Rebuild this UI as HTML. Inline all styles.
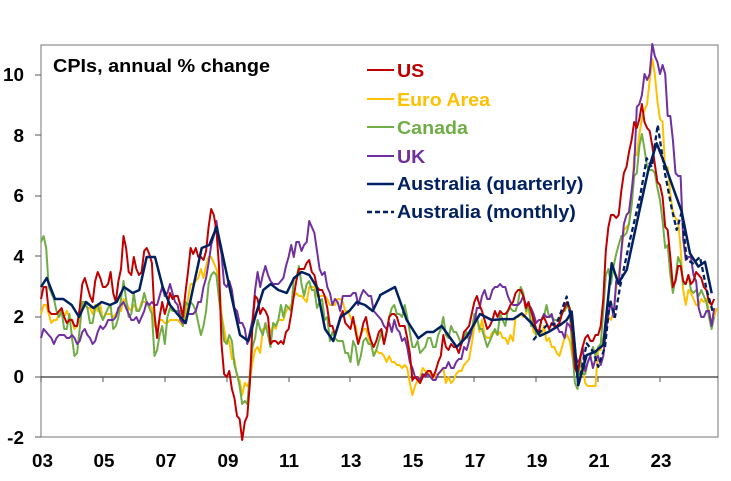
<!DOCTYPE html>
<html><head><meta charset="utf-8"><style>
html,body{margin:0;padding:0;background:#fff}
svg text{font-family:"Liberation Sans",Arial,sans-serif;font-weight:bold}
</style></head><body>
<svg id="s" width="731" height="476" viewBox="0 0 731 476" xmlns="http://www.w3.org/2000/svg">
<rect x="41" y="45" width="677" height="392" fill="none" stroke="#8c8c8c" stroke-width="1.2"/>
<line x1="41" y1="377" x2="718" y2="377" stroke="#000" stroke-width="1"/>
<g stroke="#555" stroke-width="1">
<line x1="41" y1="377" x2="41" y2="382"/><line x1="103" y1="377" x2="103" y2="382"/><line x1="165" y1="377" x2="165" y2="382"/><line x1="227" y1="377" x2="227" y2="382"/><line x1="289" y1="377" x2="289" y2="382"/><line x1="350" y1="377" x2="350" y2="382"/><line x1="412" y1="377" x2="412" y2="382"/><line x1="474" y1="377" x2="474" y2="382"/><line x1="536" y1="377" x2="536" y2="382"/><line x1="598" y1="377" x2="598" y2="382"/><line x1="660" y1="377" x2="660" y2="382"/>
<line x1="35" y1="75" x2="41" y2="75"/><line x1="35" y1="135" x2="41" y2="135"/><line x1="35" y1="196" x2="41" y2="196"/><line x1="35" y1="256" x2="41" y2="256"/><line x1="35" y1="317" x2="41" y2="317"/><line x1="35" y1="377" x2="41" y2="377"/><line x1="35" y1="437" x2="41" y2="437"/>
</g>
<g font-size="18" text-anchor="end" class="t">
<text x="24" y="81">10</text><text x="24" y="142">8</text><text x="24" y="202">6</text><text x="24" y="263">4</text><text x="24" y="323">2</text><text x="24" y="383">0</text><text x="24" y="444">-2</text>
</g>
<g font-size="18" text-anchor="middle" class="t">
<text x="42.5" y="467">03</text><text x="104" y="467">05</text><text x="166" y="467">07</text><text x="228" y="467">09</text><text x="289" y="467">11</text><text x="351" y="467">13</text><text x="413" y="467">15</text><text x="475" y="467">17</text><text x="537" y="467">19</text><text x="599" y="467">21</text><text x="661" y="467">23</text>
</g>
<text x="53" y="72" font-size="18" textLength="217" lengthAdjust="spacingAndGlyphs">CPIs, annual % change</text>
<g id="series" fill="none" stroke-width="2" stroke-linejoin="round"></g>
<g stroke-width="2">
<line x1="367" y1="70" x2="394" y2="70" stroke="#C00000"/>
<line x1="367" y1="99" x2="394" y2="99" stroke="#FFC000"/>
<line x1="367" y1="127" x2="394" y2="127" stroke="#70AD47"/>
<line x1="367" y1="156" x2="394" y2="156" stroke="#7030A0"/>
<line x1="367" y1="184" x2="394" y2="184" stroke="#002060" stroke-width="2.5"/>
<line x1="367" y1="212" x2="394" y2="212" stroke="#002060" stroke-width="2.5" stroke-dasharray="5,3"/>
</g>
<g font-size="18" class="lg">
<text x="397" y="77" fill="#C00000">US</text>
<text x="397" y="106" fill="#FFC000">Euro Area</text>
<text x="397" y="134" fill="#70AD47">Canada</text>
<text x="397" y="163" fill="#7030A0">UK</text>
<text x="397" y="190" fill="#002060">Australia (quarterly)</text>
<text x="397" y="218" fill="#002060">Australia (monthly)</text>
</g>
</svg>
<script>
function X(y){return 41+(y-2003)*30.95}
function Y(v){return 377-30*v}
var US=[2.6,3.0,3.0,2.2,2.1,2.1,2.1,2.2,2.3,2.0,1.8,1.9,1.9,1.7,1.7,2.3,3.1,3.3,3.0,2.7,2.5,3.2,3.5,3.3,3.0,3.0,3.1,3.5,2.8,2.5,3.2,3.6,4.7,4.3,3.5,3.4,4.0,3.6,3.4,3.5,4.2,4.3,4.1,3.8,2.1,1.3,2.0,2.5,2.1,2.4,2.8,2.6,2.7,2.7,2.4,2.0,2.8,3.5,4.3,4.1,4.3,4.0,4.0,3.9,4.2,5.0,5.6,5.4,4.9,3.7,1.1,0.1,0.0,0.2,-0.4,-0.7,-1.3,-1.4,-2.1,-1.5,-1.3,-0.2,1.8,2.7,2.6,2.1,2.3,2.2,2.0,1.1,1.2,1.2,1.1,1.2,1.1,1.5,1.6,2.1,2.7,3.2,3.6,3.6,3.6,3.8,3.9,3.5,3.4,3.0,2.9,2.9,2.7,2.3,1.7,1.7,1.4,1.7,2.0,2.2,1.8,1.7,1.6,2.0,1.5,1.1,1.4,1.8,2.0,1.5,1.2,1.0,1.2,1.5,1.6,1.1,1.5,2.0,2.1,2.1,2.0,1.7,1.7,1.7,1.3,0.8,-0.1,0.0,-0.1,-0.2,0.0,0.1,0.2,0.2,0.0,0.2,0.5,0.7,1.4,1.0,0.9,1.1,1.0,1.0,0.8,1.1,1.5,1.6,1.7,2.1,2.5,2.7,2.4,2.2,1.9,1.6,1.7,1.9,2.2,2.0,2.2,2.1,2.1,2.2,2.4,2.5,2.8,2.9,2.9,2.7,2.3,2.5,2.2,1.9,1.6,1.5,1.9,2.0,1.8,1.6,1.8,1.7,1.7,1.8,2.1,2.3,2.5,2.3,1.5,0.3,0.1,0.6,1.0,1.3,1.4,1.2,1.2,1.4,1.4,1.7,2.6,4.2,5.0,5.4,5.4,5.3,5.4,6.2,6.8,7.0,7.5,7.9,8.5,8.3,8.6,9.1,8.5,8.3,8.2,7.7,7.1,6.5,6.4,6.0,5.0,4.9,4.0,3.0,3.2,3.7,3.7,3.2,3.1,3.4,3.1,3.2,3.5,3.4,3.3,3.0,2.9,2.5,2.4,2.6];
var EU=[2.1,2.4,2.4,2.1,1.8,1.9,1.9,2.1,2.2,2.0,2.2,2.0,1.9,1.6,1.7,2.0,2.5,2.4,2.3,2.3,2.1,2.4,2.2,2.4,1.9,2.1,2.1,2.1,2.0,2.1,2.2,2.2,2.6,2.5,2.3,2.2,2.4,2.3,2.2,2.5,2.5,2.5,2.4,2.3,1.7,1.6,1.9,1.9,1.8,1.8,1.9,1.9,1.9,1.9,1.8,1.7,2.1,2.6,3.1,3.1,3.2,3.3,3.6,3.3,3.7,4.0,4.0,3.8,3.6,3.2,2.1,1.6,1.1,1.2,0.6,0.6,0.0,-0.1,-0.6,-0.2,-0.3,-0.1,0.5,0.9,1.0,0.8,1.6,1.6,1.7,1.5,1.7,1.6,1.9,1.9,1.9,2.2,2.3,2.4,2.7,2.8,2.7,2.7,2.6,2.5,3.0,3.0,3.0,2.7,2.7,2.7,2.7,2.6,2.4,2.4,2.4,2.6,2.6,2.5,2.2,2.2,2.0,1.8,1.7,1.2,1.4,1.6,1.6,1.3,1.1,0.7,0.9,0.8,0.8,0.7,0.5,0.7,0.5,0.5,0.4,0.4,0.3,0.4,0.3,-0.2,-0.6,-0.3,-0.1,0.0,0.3,0.2,0.2,0.1,-0.1,0.1,0.1,0.2,0.3,-0.2,0.0,-0.2,-0.1,0.1,0.2,0.2,0.4,0.5,0.6,1.1,1.7,2.0,1.5,1.9,1.4,1.3,1.3,1.5,1.5,1.4,1.5,1.3,1.3,1.1,1.4,1.2,2.0,2.0,2.1,2.0,2.1,2.3,1.9,1.5,1.4,1.5,1.4,1.7,1.2,1.3,1.0,1.0,0.8,0.7,1.0,1.3,1.4,1.2,0.7,0.3,0.1,0.3,0.4,-0.2,-0.3,-0.3,-0.3,-0.3,0.9,0.9,1.3,1.6,2.0,1.9,2.2,3.0,3.4,4.1,4.9,5.0,5.1,5.9,7.4,7.4,8.1,8.6,8.9,9.1,9.9,10.6,10.1,9.2,8.6,8.5,6.9,7.0,6.1,5.5,5.3,5.2,4.3,2.9,2.4,2.9,2.8,2.6,2.4,2.4,2.6,2.5,2.6,2.2,1.7,2.0,2.3];
var CA=[4.5,4.7,4.3,3.0,2.8,2.6,2.2,2.0,2.2,1.6,1.6,2.1,1.3,0.7,0.8,1.6,2.5,2.5,2.3,1.8,1.8,2.3,2.4,2.1,1.9,2.1,2.3,2.4,1.6,1.7,2.0,2.6,3.2,2.6,2.0,2.1,2.8,2.2,2.2,2.4,2.8,2.5,2.3,2.1,0.7,0.9,1.4,1.7,1.1,2.0,2.3,2.2,2.2,2.2,2.2,1.7,2.5,2.4,2.5,2.4,2.2,1.8,1.4,1.7,2.2,3.1,3.4,3.5,3.4,2.6,2.0,1.2,1.1,1.4,1.2,0.4,0.1,-0.3,-0.9,-0.8,-0.9,0.1,1.0,1.3,1.9,1.6,1.4,1.8,1.4,1.0,1.8,1.7,1.9,2.4,2.0,2.4,2.3,2.2,3.3,3.3,3.7,3.1,2.7,3.1,3.2,2.9,2.9,2.3,2.5,2.6,1.9,2.0,1.2,1.5,1.3,1.2,1.2,1.2,0.8,0.8,0.5,1.2,1.0,0.4,0.7,1.2,1.3,1.1,1.1,0.7,0.9,1.2,1.5,1.1,1.5,2.0,2.3,2.4,2.1,2.1,2.0,2.4,2.0,1.5,1.0,1.0,1.2,0.8,0.9,1.0,1.3,1.3,1.0,1.0,1.4,1.6,2.0,1.4,1.3,1.7,1.5,1.5,1.3,1.1,1.3,1.5,1.2,1.5,2.1,2.0,1.6,1.6,1.3,1.0,1.2,1.4,1.6,1.4,2.1,1.9,1.7,2.2,2.3,2.2,2.2,2.5,3.0,2.8,2.2,2.4,1.7,2.0,1.4,1.5,1.9,2.0,2.4,2.0,2.0,1.9,1.9,1.9,2.2,2.2,2.4,2.2,0.9,-0.2,-0.4,0.7,0.1,0.1,0.5,0.7,1.0,0.7,1.0,1.1,2.2,3.4,3.6,3.1,3.7,4.1,4.4,4.7,4.7,4.8,5.1,5.7,6.7,6.8,7.7,8.1,7.6,7.0,6.9,6.9,6.8,6.3,5.9,5.2,4.3,4.4,3.4,2.8,3.3,4.0,3.8,3.1,3.1,3.4,2.9,2.8,2.9,2.7,2.9,2.7,2.5,2.0,1.6,2.0];
var UK=[1.3,1.6,1.5,1.4,1.3,1.1,1.3,1.4,1.4,1.4,1.3,1.3,1.4,1.3,1.1,1.2,1.5,1.6,1.4,1.3,1.1,1.2,1.5,1.7,1.6,1.7,1.9,1.9,1.9,2.0,2.3,2.4,2.5,2.3,2.1,1.9,1.9,2.0,1.8,2.0,2.2,2.5,2.4,2.5,2.4,2.4,2.7,3.0,2.7,2.8,3.1,2.8,2.5,2.4,1.9,1.8,1.8,2.1,2.1,2.1,2.2,2.5,2.5,3.0,3.3,3.8,4.4,4.7,5.2,4.5,4.1,3.1,3.0,3.2,2.9,2.3,2.2,1.8,1.8,1.6,1.1,1.5,1.9,2.9,3.5,3.0,3.4,3.7,3.4,3.2,3.1,3.1,3.1,3.2,3.3,3.7,4.0,4.4,4.0,4.5,4.5,4.2,4.4,4.5,5.2,5.0,4.8,4.2,3.6,3.4,3.5,3.0,2.8,2.4,2.6,2.5,2.2,2.7,2.7,2.7,2.7,2.8,2.8,2.4,2.7,2.9,2.8,2.7,2.7,2.2,2.1,2.0,1.9,1.7,1.6,1.8,1.5,1.9,1.6,1.5,1.2,1.3,1.0,0.5,0.3,0.0,0.0,-0.1,0.1,0.0,0.1,0.0,-0.1,-0.1,0.1,0.2,0.3,0.3,0.5,0.3,0.3,0.5,0.6,0.6,1.0,0.9,1.2,1.6,1.8,2.3,2.3,2.7,2.9,2.6,2.6,2.9,3.0,3.0,3.1,3.0,3.0,2.7,2.5,2.4,2.4,2.4,2.5,2.7,2.4,2.4,2.3,2.1,1.8,1.9,1.9,2.1,2.0,2.0,2.1,1.7,1.7,1.5,1.5,1.3,1.8,1.7,1.5,0.8,0.5,0.6,1.0,0.2,0.5,0.7,0.3,0.6,0.7,0.4,0.7,1.5,2.1,2.5,2.0,3.2,3.1,4.2,5.1,5.4,5.5,6.2,7.0,9.0,9.1,9.4,10.1,9.9,10.1,11.1,10.7,10.5,10.1,10.4,10.1,8.7,8.7,7.9,6.8,6.7,6.7,4.6,3.9,4.0,4.0,3.4,3.2,2.3,2.0,2.0,2.2,2.2,1.7,2.3];
function monthly(a){var p=[];for(var i=0;i<a.length;i++){p.push([X(2003+i/12),Y(a[i])]);}return p;}
var AQ1=[[123,3.0],[140,3.3],[165,2.6],[190,2.6],[215,2.4],[237,2.0],[258,2.5],[280,2.3],[305,2.5],[330,2.4],[350,2.5],[372,3.0],[398,2.8],[418,2.9],[440,4.0],[465,4.0],[488,3.0],[510,2.4],[532,2.1],[557,1.8],[580,3.0],[605,4.3],[628,4.4],[650,5.0],[675,3.7],[698,2.5],[720,1.4],[745,1.2],[768,2.1],[790,2.9],[812,3.1],[835,2.9],[860,2.8],[882,3.3],[905,3.5],[928,3.4],[950,3.0],[975,1.6],[1000,1.2],[1022,2.0],[1048,2.2],[1070,2.5],[1095,2.4],[1118,2.2],[1140,2.7]];
var AQ2=[[60,2.73],[105,3.0],[140,1.9],[175,1.29],[200,1.5],[220,1.5],[245,1.7],[290,1.0],[320,1.34],[360,2.1],[395,1.9],[430,1.93],[460,1.93],[485,2.12],[515,1.79],[540,1.37],[565,1.5],[600,1.73],[620,1.9],[635,2.18],[655,-0.27],[680,0.73],[705,0.84],[730,1.07],[755,3.79],[775,3.12],[800,3.57],[830,5.12],[865,6.9],[890,7.79],[915,7.07],[940,6.29],[965,5.51],[990,4.12],[1015,3.68],[1035,3.84],[1055,2.79]];
var AM=[[520,1.23],[540,1.5],[560,1.72],[590,1.78],[620,2.68],[640,1.57],[655,-0.3],[680,1.12],[700,0.84],[715,0.34],[735,1.0],[750,2.57],[765,2.0],[780,3.0],[810,4.57],[840,6.0],[860,7.29],[875,7.0],[893,8.4],[915,6.79],[935,5.62],[950,4.9],[965,5.5],[980,3.9],[1000,3.79],[1020,4.0],[1040,2.9],[1060,2.12]];
var aq=AQ1.map(function(p){return [p[0]/3,Y(p[1])]}).concat(AQ2.map(function(p){return [360+p[0]/3,Y(p[1])]}));
var am=AM.map(function(p){return [360+p[0]/3,Y(p[1])]});
function path(pts,col,w,dash){var d="M"+pts.map(function(p){return p[0].toFixed(1)+","+p[1].toFixed(1)}).join("L");
return '<path d="'+d+'" stroke="'+col+'" stroke-width="'+w+'"'+(dash?' stroke-dasharray="'+dash+'"':'')+'/>';}
document.getElementById("series").innerHTML=
path(monthly(EU),"#FFC000",2)+path(monthly(CA),"#70AD47",2)+path(monthly(UK),"#7030A0",2)+path(monthly(US),"#C00000",2)+path(am,"#002060",2.3,"5,3")+path(aq,"#002060",2.5);
function stretch(sel,f){var n=document.querySelectorAll(sel);for(var i=0;i<n.length;i++){try{var w=n[i].getComputedTextLength();n[i].setAttribute("textLength",(w*f).toFixed(1));n[i].setAttribute("lengthAdjust","spacingAndGlyphs");}catch(e){}}}
stretch(".lg text",1.09);stretch(".t text",1.05);
</script>
</body></html>
